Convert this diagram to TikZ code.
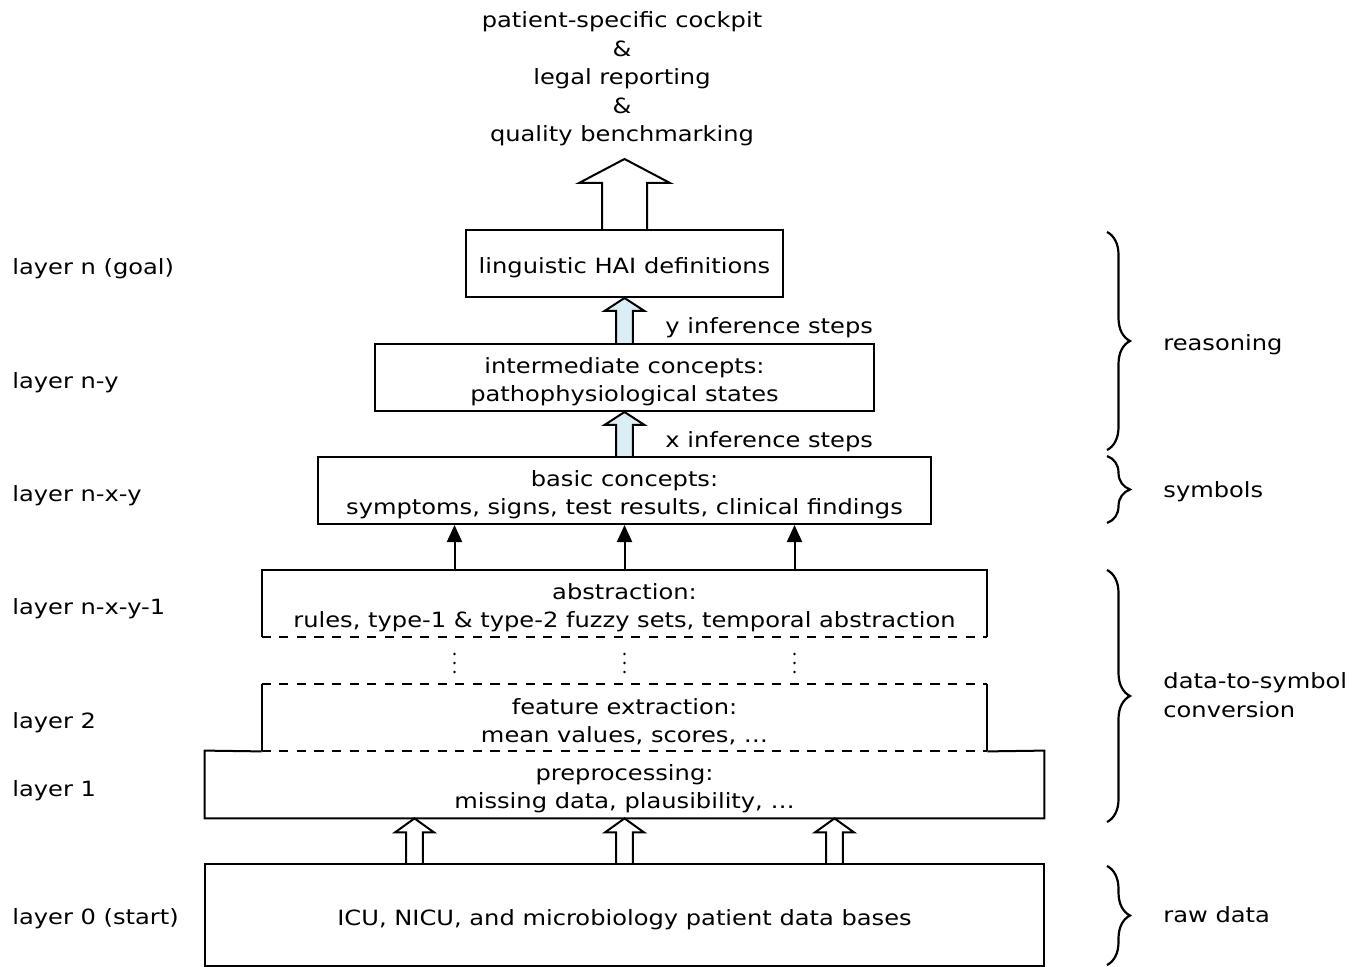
\documentclass[tikz,border=0pt]{standalone}
\usepackage{fontspec}
\setmainfont{DejaVu Sans}[FakeStretch=1.15]
\usetikzlibrary{arrows.meta,calc,decorations.pathreplacing,backgrounds}
\definecolor{paleblue}{RGB}{220,238,245}

\tikzset{
  textlift/.style={execute at begin node={\rule{0pt}{#1}}},
  layerbox/.style={draw,line width=1pt,inner sep=0pt,align=center},
  openbox/.style={inner sep=0pt,align=center},
  oneline/.style={textlift=12.3pt},
  twolines/.style={textlift=26.6pt},
  lbl/.style={anchor=west,inner sep=0pt,text height=10.8pt,text depth=2.4pt},
  fatstyle/.style={line width=1pt,line join=miter},
  thinarrow/.style={-{Triangle[length=8.5pt,width=7.5pt]},line width=1pt},
  curly/.style={decorate,decoration={brace,amplitude=11.5pt},line width=1.1pt},
  dashline/.style={line width=1pt,dash pattern=on 4.6pt off 4.2pt},
}

% hollow block arrow: style, base, tip, shaft half width, head half width, head length
\newcommand\fatarrow[6]{%
  \draw[fatstyle,#1] ($(#2)+(-#4,0)$) -- ($(#3)+(-#4,#6)$) -- ($(#3)+(-#5,#6)$) -- (#3)
    -- ($(#3)+(#5,#6)$) -- ($(#3)+(#4,#6)$) -- ($(#2)+(#4,0)$);}

\begin{document}
\begin{tikzpicture}[x=0.5pt,y=-0.5pt,font=\fontsize{10.5}{14.25}\selectfont]
\useasboundingbox (0,0) rectangle (1353,967);

% layers, top to bottom
\node[align=center] (goal) at (622,79) {patient-specific cockpit\\\&\\legal reporting\\\&\\quality benchmarking};
\node[layerbox,oneline,minimum width=158.5pt,minimum height=33.5pt] (hai) at (624.5,263.5) {linguistic HAI definitions};
\node[layerbox,twolines,minimum width=249.5pt,minimum height=33.5pt] (inter) at (624.5,377.5) {intermediate concepts:\\pathophysiological states};
\node[layerbox,twolines,minimum width=306.5pt,minimum height=33.5pt] (basic) at (624.5,490.5) {basic concepts:\\symptoms, signs, test results, clinical findings};
\node[openbox,twolines,minimum width=362.5pt,minimum height=33.5pt] (abstr) at (624.5,603.5) {abstraction:\\rules, type-1 \& type-2 fuzzy sets, temporal abstraction};
\node[openbox,twolines,minimum width=362.5pt,minimum height=33.5pt] (feat) at (624.5,717.5) {feature extraction:\\mean values, scores, \dots};
\node[openbox,twolines,minimum width=419.5pt,minimum height=33.5pt] (prep) at (624.5,784.5) {preprocessing:\\missing data, plausibility, \dots};
\node[layerbox,oneline,minimum width=419.5pt,minimum height=51pt] (raw) at (624.5,915) {ICU, NICU, and microbiology patient data bases};

% borders of the open boxes
\draw[line width=1pt] (abstr.south west) -- (abstr.north west) -- (abstr.north east) -- (abstr.south east);
\draw[dashline] (abstr.south west) -- (abstr.south east);
\draw[line width=1pt] (feat.north west) -- (feat.south west) (feat.north east) -- (feat.south east);
\draw[dashline] (feat.north west) -- (feat.north east) (feat.south west) -- (feat.south east);
\draw[line width=1pt] (feat.south west) -- (prep.north west) -- (prep.south west) -- (prep.south east) -- (prep.north east) -- (feat.south east);

% arrows
\begin{scope}[on background layer]
\coordinate (top) at ($(hai.north)+(0,-70)$);
\fatarrow{fill=white}{hai.north}{top}{22.5}{45.5}{24}
\fatarrow{fill=paleblue}{inter.north}{hai.south}{8.3}{20}{13}
\fatarrow{fill=paleblue}{basic.north}{inter.south}{8.3}{20}{13}
\foreach \dx in {-210,0,210}{
  \path (raw.north) ++(\dx,0) coordinate (a) (prep.south) ++(\dx,0) coordinate (b);
  \fatarrow{fill=white}{a}{b}{8.3}{19.5}{14}
}
\end{scope}
\foreach \dx in {-170,0,170}{
  \draw[thinarrow] (abstr.north) ++(\dx,0) -- ($(basic.south)+(\dx,0)$);
  \foreach \yy in {654,663,672}
    \fill (624.5+\dx,\yy) circle (1.4);
}
\node[lbl] (ysteps) at (665,325) {y inference steps};
\node[lbl] (xsteps) at (665,439) {x inference steps};

% layer names
\node[lbl] (ln) at (12,266) {layer n (goal)};
\node[lbl] (lny) at (12,380) {layer n-y};
\node[lbl] (lnxy) at (12,493) {layer n-x-y};
\node[lbl] (lnxy1) at (12,606) {layer n-x-y-1};
\node[lbl] (l2) at (12,720) {layer 2};
\node[lbl] (l1) at (12,788) {layer 1};
\node[lbl] (l0) at (12,916) {layer 0 (start)};

% braces
\draw[curly] (1107,232) -- (1107,450);
\draw[curly] (1107,456) -- (1107,523);
\draw[curly] (1107,570) -- (1107,822);
\draw[curly] (1107,866) -- (1107,965);
\node[lbl] (reas) at (1163,342) {reasoning};
\node[lbl] (symb) at (1163,489) {symbols};
\node[anchor=west,inner sep=0pt,align=left] (conv) at (1163,695) {data-to-symbol\\conversion};
\node[lbl] (rawd) at (1163,914) {raw data};
\end{tikzpicture}
\end{document}
